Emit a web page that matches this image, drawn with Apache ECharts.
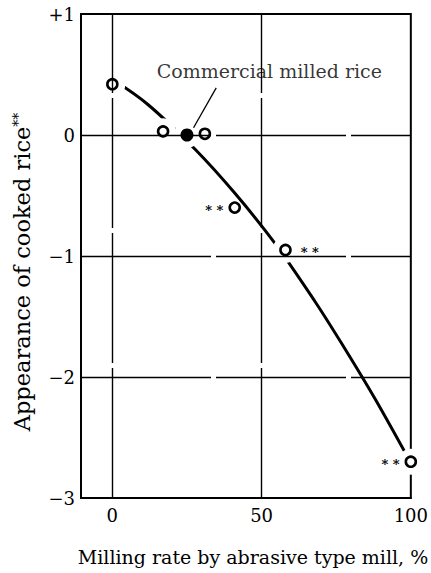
<!DOCTYPE html>
<html><head><meta charset="utf-8">
<script src="https://cdn.jsdelivr.net/npm/echarts@6/dist/echarts.min.js"></script>
<style>html,body{margin:0;padding:0;background:#fff}#c{width:431px;height:573px}</style>
</head><body><div id="c"></div>
<script>
// ---- data ----
const xTicks = [0, 50, 100];
const yTicks = [1, 0, -1, -2, -3];
const yTickLabels = ['+1', '0', '\u22121', '\u22122', '\u22123'];
const xGridLines = [0, 50];
const yGridLines = [0, -1, -2];
const pointX = [0, 17, 31, 41, 58, 100];
const pointY = [0.42, 0.03, 0.01, -0.6, -0.95, -2.7];
const pointStars = ['', '', '', '* *', '* *', '* *'];
const gapAround = [true, true, true, false, true, true];
const commercialX = [25];
const commercialY = [0];
const curveX = [0, 12, 27.8, 41, 54.3, 68, 77.5, 88, 100];
const curveY = [0.46, 0.25, -0.12, -0.48, -0.89, -1.38, -1.75, -2.18, -2.71];
const annotationText = 'Commercial milled rice';
const xTitle = 'Milling rate by abrasive type mill, %';
const yTitle = 'Appearance of cooked rice';
const yTitleMark = '**';

// ---- presentation ----
const FONT = 'DejaVu Serif';
const starSide = ['', '', '', 'left', 'right', 'left'];
const chart = echarts.init(document.getElementById('c'), null, {renderer: 'svg'});

const starLabel = {color: '#000', fontFamily: FONT, fontSize: 13, fontWeight: 'bold', offset: [0, 3]};
const pts = pointX.map((x, i) => ({
  value: [x, pointY[i]],
  label: Object.assign({}, starLabel, {
    show: pointStars[i] !== '',
    formatter: pointStars[i],
    position: starSide[i] || 'left',
    distance: starSide[i] === 'right' ? 9 : 5
  })
}));
const halos = pointX.map((x, i) => [x, pointY[i]]).filter((p, i) => gapAround[i])
  .concat(commercialX.map((x, i) => [x, commercialY[i]]));

chart.setOption({
  backgroundColor: '#fff',
  animation: false,
  grid: {left: 81, right: 16, top: 14, bottom: 75, show: true, borderColor: '#000', borderWidth: 2, backgroundColor: 'transparent'},
  xAxis: {
    type: 'value', min: -10.5, max: 100,
    axisLine: {show: true, onZero: false, lineStyle: {color: '#000', width: 2}},
    axisTick: {show: false},
    splitLine: {show: false},
    axisLabel: {customValues: xTicks, color: '#000', fontFamily: FONT, fontSize: 18, margin: 8}
  },
  yAxis: {
    type: 'value', min: -3, max: 1, interval: 1,
    axisLine: {show: true, onZero: false, lineStyle: {color: '#000', width: 2}},
    axisTick: {show: false},
    splitLine: {show: false},
    axisLabel: {color: '#000', fontFamily: FONT, fontSize: 18, margin: 6,
      formatter: v => { const k = yTicks.indexOf(v); return k >= 0 ? yTickLabels[k] : ''; }}
  },
  graphic: [
    {type: 'text', x: 253, y: 557, style: {text: xTitle, fill: '#000', font: '19px "DejaVu Serif"', align: 'center', verticalAlign: 'middle'}},
    {type: 'text', x: 22, y: 272, rotation: Math.PI / 2, style: {
      text: '{m|' + yTitle + '}{s|' + yTitleMark + '}', align: 'center', verticalAlign: 'middle', fill: '#000',
      rich: {m: {fontFamily: FONT, fontSize: 22.5, fill: '#000'}, s: {fontFamily: FONT, fontSize: 14, fill: '#000', verticalAlign: 'top'}}
    }}
  ],
  series: [
    {
      type: 'line', data: [], z: 1, silent: true,
      markLine: {
        silent: true, symbol: 'none', label: {show: false}, animation: false,
        lineStyle: {color: '#000', width: 1.4, type: [130, 5]},
        data: xGridLines.map(v => ({xAxis: v})).concat(yGridLines.map(v => ({yAxis: v})))
      }
    },
    {
      type: 'line', data: curveX.map((x, i) => [x, curveY[i]]), smooth: 0.35, showSymbol: false, z: 2, silent: true,
      lineStyle: {color: '#000', width: 3}
    },
    {
      type: 'scatter', data: halos, symbolSize: 26, z: 3, silent: true,
      itemStyle: {color: '#fff', opacity: 1}
    },
    {
      type: 'scatter', data: pts, symbolSize: 10, z: 4, silent: true,
      itemStyle: {color: '#fff', borderColor: '#000', borderWidth: 2.6, opacity: 1},
      label: starLabel
    },
    {
      type: 'scatter', data: commercialX.map((x, i) => [x, commercialY[i]]), symbolSize: 13, z: 4, silent: true,
      itemStyle: {color: '#000', opacity: 1},
      markLine: {
        silent: true, symbol: ['none', 'arrow'], symbolSize: [0, 9], label: {show: false},
        lineStyle: {color: '#000', width: 1.3, type: 'solid'},
        data: [[{coord: [34.8, 0.39]}, {coord: [27.2, 0.06]}]]
      }
    },
    {
      type: 'scatter', data: [[52.6, 0.53]], symbolSize: 0, z: 5, silent: true,
      label: {show: true, position: 'inside', formatter: annotationText, color: '#000', fontFamily: FONT, fontSize: 19}
    }
  ]
});
</script></body></html>
